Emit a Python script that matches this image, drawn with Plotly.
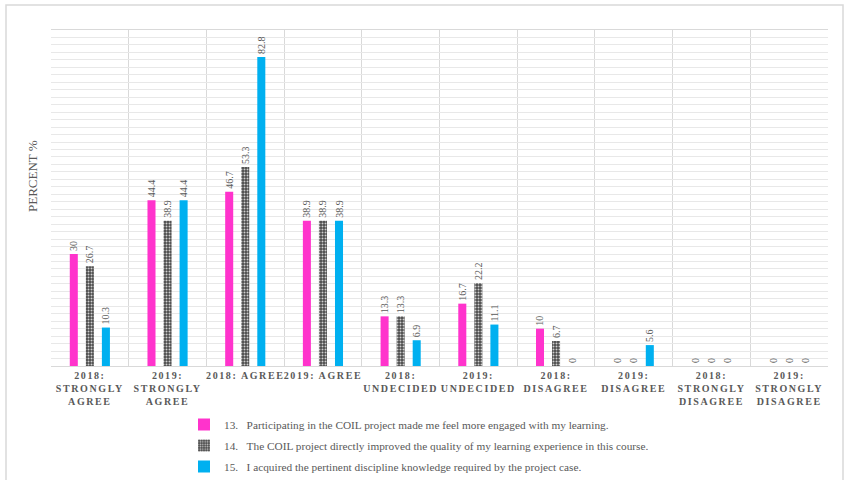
import plotly.graph_objects as go

categories = [
    "2018:<br>STRONGLY<br>AGREE",
    "2019:<br>STRONGLY<br>AGREE",
    "2018: AGREE",
    "2019: AGREE",
    "2018:<br>UNDECIDED",
    "2019:<br>UNDECIDED",
    "2018:<br>DISAGREE",
    "2019:<br>DISAGREE",
    "2018:<br>STRONGLY<br>DISAGREE",
    "2019:<br>STRONGLY<br>DISAGREE",
]

q13 = [30, 44.4, 46.7, 38.9, 13.3, 16.7, 10, 0, 0, 0]
q14 = [26.7, 38.9, 53.3, 38.9, 13.3, 22.2, 6.7, 0, 0, 0]
q15 = [10.3, 44.4, 82.8, 38.9, 6.9, 11.1, 0, 5.6, 0, 0]

names = [
    "13.\u00a0\u00a0\u00a0Participating in the COIL project made me feel more engaged with my learning.",
    "14.\u00a0\u00a0\u00a0The COIL project directly improved the quality of my learning experience in this course.",
    "15.\u00a0\u00a0\u00a0I acquired the pertinent discipline knowledge required by the project case.",
]

SERIF = "Liberation Serif, Times New Roman, serif"
GREY_TXT = "#595959"

W, H = 844, 480
ML, MR, MT, MB = 51, 16, 30, 114
PW, PH = W - ML - MR, H - MT - MB

fig = go.Figure()

label_font = dict(family=SERIF, size=10, color=GREY_TXT)
common = dict(texttemplate="%{y}", textposition="outside", textangle=-90,
              textfont=label_font, cliponaxis=False, constraintext="none")

fig.add_trace(go.Bar(
    x=categories, y=q13, name=names[0], legendgroup="q13",
    marker=dict(color="#FF33CC", line=dict(width=0)),
    **common,
))
fig.add_trace(go.Bar(
    x=categories, y=q14, name=names[1], legendgroup="q14",
    marker=dict(color="#4a4a4a", line=dict(width=0),
                pattern=dict(shape=".", fgcolor="#d0d0d0", bgcolor="#4a4a4a",
                             size=3, solidity=0.35, fillmode="replace")),
    **common,
))
fig.add_trace(go.Bar(
    x=categories, y=q15, name=names[2], legendgroup="q15",
    marker=dict(color="#00B0F0", line=dict(width=0)),
    **common,
))


def px_to_paper_x(px):
    return (px - ML) / PW


def px_to_paper_y(py):
    return (H - MB - py) / PH


# outer frame around the whole chart
fig.add_shape(type="rect", xref="paper", yref="paper",
              x0=px_to_paper_x(6), x1=px_to_paper_x(843),
              y0=px_to_paper_y(495), y1=px_to_paper_y(5),
              line=dict(color="#d9d9d9", width=1.5), fillcolor="rgba(0,0,0,0)",
              layer="below")

fig.add_annotation(text="PERCENT %", xref="paper", yref="paper",
                   x=px_to_paper_x(32), y=px_to_paper_y(176),
                   xanchor="center", yanchor="middle",
                   textangle=-90, showarrow=False,
                   font=dict(family=SERIF, size=13, color=GREY_TXT))

fig.update_layout(
    width=W, height=H,
    margin=dict(l=ML, r=MR, t=MT, b=MB, autoexpand=False),
    paper_bgcolor="white", plot_bgcolor="white",
    barmode="group", bargap=0.38, bargroupgap=0.5,
    font=dict(family=SERIF, color=GREY_TXT),
    showlegend=True,
    legend=dict(
        x=px_to_paper_x(184), y=px_to_paper_y(410), xanchor="left", yanchor="top",
        orientation="v", font=dict(family=SERIF, size=11.3, color=GREY_TXT),
        itemwidth=30, tracegroupgap=2, bgcolor="rgba(0,0,0,0)",
    ),
    xaxis=dict(
        type="category", tickson="boundaries", showgrid=True,
        gridcolor="#d9d9d9", gridwidth=1, automargin=False,
        showline=True, linecolor="#d9d9d9", mirror=True,
        ticks="", tickangle=0,
        tickfont=dict(family=SERIF, size=10, color=GREY_TXT, weight="bold"),
    ),
    yaxis=dict(
        range=[0, 90], dtick=2, showgrid=True, gridcolor="#e8e8e8", gridwidth=1,
        showticklabels=False, ticks="", zeroline=False, automargin=False,
        showline=False,
    ),
)

# widen the letter spacing of the category labels
post = """
var gd = document.getElementsByClassName('plotly-graph-div')[0];
function spaceTicks(){
  gd.querySelectorAll('.xtick text').forEach(function(t){
    t.style.letterSpacing = '1.6px';
  });
}
spaceTicks();
gd.on('plotly_afterplot', spaceTicks);
"""

fig.write_html("out.html", post_script=post)
